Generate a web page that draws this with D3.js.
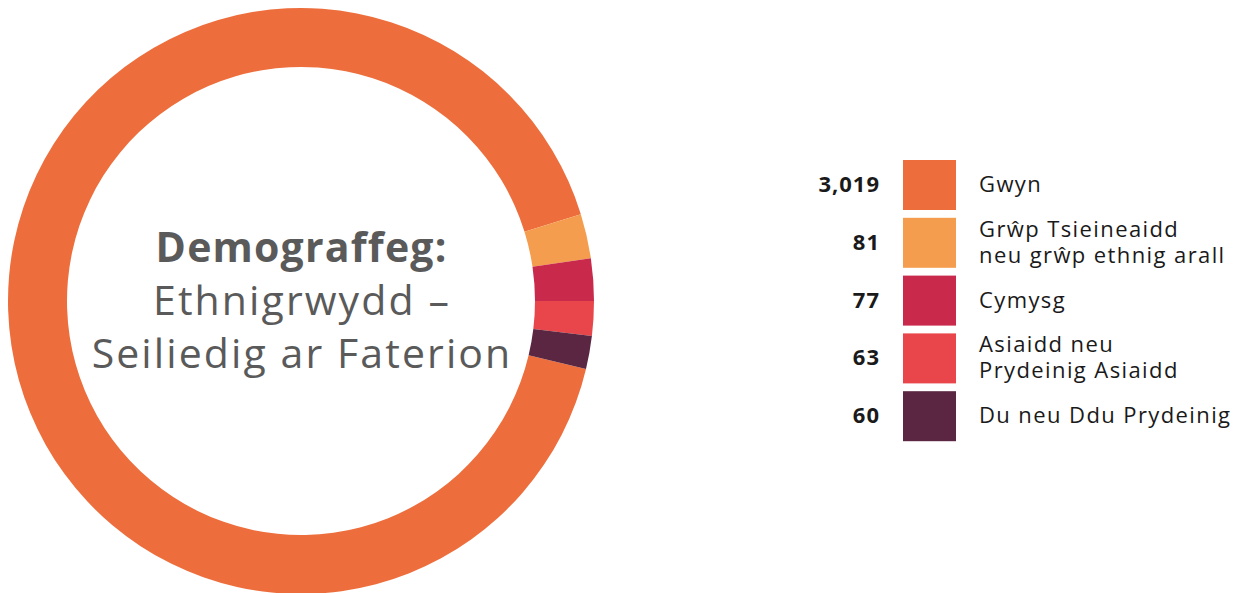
<!DOCTYPE html>
<html><head><meta charset="utf-8">
<script src="https://cdn.jsdelivr.net/npm/d3@7"></script>
<style>body{margin:0;background:#fff}svg{display:block}</style>
</head><body>
<svg id="chart" width="1243" height="593"></svg>
<script>
const categories = ["Gwyn", "Grŵp Tsieineaidd|neu grŵp ethnig arall", "Cymysg", "Asiaidd neu|Prydeinig Asiaidd", "Du neu Ddu Prydeinig"];
const values = [3019, 81, 77, 63, 60];
const valueLabels = ["3,019", "81", "77", "63", "60"];
const colors = ["#ED6E3C", "#F59D4E", "#C9294A", "#E8464A", "#5A2641"];
const titleLines = ["Demograffeg:", "Ethnigrwydd –", "Seiliedig ar Faterion"];

const svg = d3.select("#chart");
const cx = 301, cy = 301, rOuter = 293, rInner = 234;
const total = d3.sum(values);
const start = Math.PI / 2 + (values[3] + values[4]) / total * 2 * Math.PI;
const pie = d3.pie().sort(null).value(d => d).startAngle(start).endAngle(start + 2 * Math.PI);
const arc = d3.arc().innerRadius(rInner).outerRadius(rOuter);
const g = svg.append("g").attr("transform", `translate(${cx},${cy})`);
g.selectAll("path").data(pie(values)).join("path")
  .attr("d", arc).attr("fill", (d, i) => colors[i]);

const font = "'Open Sans', sans-serif";
const tg = svg.append("g").attr("font-family", font).attr("fill", "#5a5a5a").attr("text-anchor", "middle");
const baselines = [262, 315, 368];
titleLines.forEach((t, i) => {
  tg.append("text").attr("x", cx + (i === 0 ? 0.6 : 1)).attr("y", baselines[i])
    .attr("font-size", 41).attr("font-weight", i === 0 ? 700 : 400)
    .attr("letter-spacing", i === 0 ? 1.2 : 2.1).text(t);
});

const lg = svg.append("g").attr("font-family", font);
values.forEach((v, i) => {
  const y0 = 160 + 57.8 * i;
  const mid = y0 + 25;
  lg.append("rect").attr("x", 903).attr("y", y0).attr("width", 53).attr("height", 50).attr("fill", colors[i]);
  lg.append("text").attr("x", 880).attr("y", mid + 7).attr("text-anchor", "end")
    .attr("font-size", 22).attr("font-weight", 700).attr("letter-spacing", 1).attr("fill", "#1a1a1a").text(valueLabels[i]);
  const lines = categories[i].split("|");
  lines.forEach((l, j) => {
    const off = lines.length === 1 ? 7 : (j === 0 ? -6 : 20);
    lg.append("text").attr("x", 979).attr("y", mid + off)
      .attr("font-size", 22).attr("letter-spacing", 1.4).attr("fill", "#1a1a1a").text(l);
  });
});
</script>
</body></html>
